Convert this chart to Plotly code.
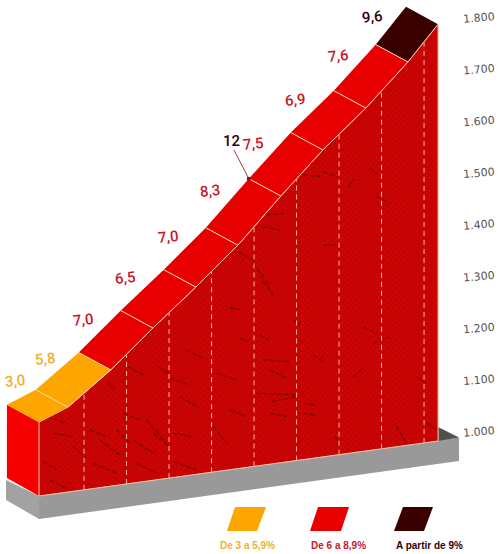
import numpy as np
import plotly.graph_objects as go

# ---- data ----
km_breaks = [0, 0.68, 1.69, 2.68, 3.69, 4.68, 5.69, 6.68, 7.69, 8.68, 9.39]
elev_breaks = [1021, 1050, 1122, 1203, 1282, 1363, 1458, 1547, 1628, 1717, 1790]
slopes = ["3,0", "5,8", "7,0", "6,5", "7,0", "8,3", "7,5", "6,9", "7,6", "9,6"]
km_marks = [1.06, 2.06, 3.06, 4.06, 5.06, 6.06, 7.06, 8.06, 9.06]
tick_vals = [1000, 1100, 1200, 1300, 1400, 1500, 1600, 1700, 1800]
tick_text = ["1.000", "1.100", "1.200", "1.300", "1.400", "1.500", "1.600", "1.700", "1.800"]
legend_labels = ["De 3 a 5,9%", "De 6 a 8,9%", "A partir de 9%"]

# rock cracks: (crop origin, strokes at 3x)
cracks_a = [[(200,155),(225,180)], [(265,110),(310,135)], [(390,145),(450,165)], [(355,110),(385,130)],
            [(150,300),(200,320)], [(180,330),(240,375)], [(230,300),(270,340)], [(320,270),(380,340)],
            [(340,310),(385,350)], [(280,330),(340,370)], [(400,310),(460,320)], [(40,310),(100,320)],
            [(10,395),(50,420)], [(30,450),(80,475)], [(160,400),(230,430)], [(290,400),(350,430)],
            [(400,395),(470,420)], [(520,290),(560,340)], [(440,60),(500,90)], [(420,200),(470,230)],
            [(100,350),(140,385)], [(250,250),(300,270)], [(530,130),(590,150)], [(20,260),(80,280)]]
cracks_b = [[(120,270),(170,295)], [(100,240),(180,245)], [(80,340),(200,345)], [(125,365),(200,350)],
            [(220,370),(260,375)], [(220,400),(255,405)], [(250,225),(280,245)], [(370,290),(400,265)],
            [(400,140),(440,160)], [(430,190),(480,170)], [(0,390),(50,410)], [(100,5),(130,45)],
            [(0,85),(30,88)], [(30,175),(55,185)], [(90,165),(115,180)], [(500,440),(530,490)],
            [(590,430),(620,450)], [(315,470),(330,490)], [(190,120),(210,135)], [(120,400),(170,410)],
            [(560,290),(590,310)]]
cracks_c = [[(340,135),(395,140)], [(400,125),(440,140)], [(475,170),(495,145)], [(400,345),(445,345)],
            [(145,365),(190,390)], [(190,400),(240,470)], [(220,290),(270,300)], [(560,200),(600,220)],
            [(540,115),(565,135)], [(230,255),(280,250)]]

YEL, RED, DARK = "#fda500", "#e80000", "#3a0000"
TXT = {"y": "#f0b030", "r": "#c9162c", "d": "#33000c"}
PALE = "#ffc8a8"

km = np.array(km_breaks, float)
el = np.array(elev_breaks, float)
DX, DY = -0.755, 33.5          # oblique depth of the ribbon


def X(px):
    return (px - 39) / 42.5


def Y(py):
    return 1000 + (433 - py) / 0.5175


base_left, base_right = Y(496), Y(441)
base = lambda k: base_left + (base_right - base_left) * (k - km[0]) / (km[-1] - km[0])

fig = go.Figure()


def poly(xs, ys, fill, line=None, width=0, **kw):
    fig.add_trace(go.Scatter(
        x=list(xs) + [xs[0]], y=list(ys) + [ys[0]], mode="lines", fill="toself",
        fillcolor=fill, line=dict(color=line or fill, width=width),
        hoverinfo="skip", showlegend=False, **kw))


def seg(xs, ys, color, width=1, dash=None):
    fig.add_trace(go.Scatter(x=xs, y=ys, mode="lines", line=dict(color=color, width=width, dash=dash),
                             hoverinfo="skip", showlegend=False))


# grey slab
sx0, sx1 = X(39), X(459)
poly([X(6), sx0, sx0, X(6)], [Y(480), Y(496), Y(519), Y(500)], "#a2a2a2")
poly([sx0, sx1, sx1, sx0], [Y(496), Y(437.5), Y(461), Y(519)], "#999999")
poly([km[-1], sx1, km[-1]], [Y(427), Y(437.5), Y(441)], "#505050")

# left face
poly([km[0] + DX, km[0], km[0], km[0] + DX], [el[0] + DY, el[0], base(km[0]), Y(478)], "#f50000")

# rock face
wx = list(km) + [km[-1], km[0]]
wy = list(el) + [base(km[-1]), base(km[0])]
poly(wx, wy, "#c40404", fillpattern=dict(shape="x", fgcolor="#860000", bgcolor="#cc0404", size=4, solidity=0.2))

cx, cy = [], []
for strokes, (ox, oy) in ((cracks_a, (40, 330)), (cracks_b, (230, 280)), (cracks_c, (190, 130))):
    for (a, b), (c, d) in strokes:
        cx += [X(ox + a / 3), X(ox + c / 3), None]
        cy += [Y(oy + b / 3), Y(oy + d / 3), None]
seg(cx, cy, "rgba(80,0,0,0.7)", 1.3, "3px,1px,1px,2px")

poly(wx, wy, "rgba(0,0,0,0)", line=PALE, width=1)

# km dashes
for k in km_marks:
    seg([k, k], [base(k), np.interp(k, km, el)], "#ffb4a0", 1, "5px,4px")

# ribbon
for i in range(len(slopes)):
    col = YEL if i < 2 else (DARK if i == len(slopes) - 1 else RED)
    poly([km[i], km[i + 1], km[i + 1] + DX, km[i] + DX],
         [el[i], el[i + 1], el[i + 1] + DY, el[i] + DY], col)
for i in range(1, len(slopes)):
    seg([km[i], km[i] + DX], [el[i], el[i] + DY], "#ffd8a0", 1)
seg(km[1:].tolist(), el[1:].tolist(), PALE, 1)

# 12 % marker
seg([km[6] + DX, X(234)], [el[6] + DY, Y(150)], "#7a1010", 0.8)
fig.add_trace(go.Scatter(x=[km[6] + DX], y=[el[6] + DY], mode="markers",
                         marker=dict(size=4, color="#7a1010"), hoverinfo="skip", showlegend=False))

ann = []
for i, s in enumerate(slopes):
    col = TXT["y"] if i < 2 else (TXT["d"] if i == len(slopes) - 1 else TXT["r"])
    ox, oy = {0: (-6, 16), 1: (-12, 12), 9: (-19, 9)}.get(i, (-17, 12))
    ann.append(dict(x=(km[i] + km[i + 1]) / 2 + DX, y=(el[i] + el[i + 1]) / 2 + DY, text=s,
                    xshift=ox, yshift=oy, showarrow=False, textangle=-6,
                    font=dict(family="Roboto", size=15, weight=500, color=col)))
ann.append(dict(x=X(231), y=Y(141), text="12", showarrow=False,
                font=dict(family="Roboto", size=15, weight=500, color=TXT["d"])))

# legend
swatches = [(227, 235, 266, 257, YEL), (310, 318, 349, 341, RED), (394, 403, 433, 424, DARK)]
for (a, b, c, d, col), lab, tx, tc in zip(swatches, legend_labels, (247, 338, 429), (TXT["y"], TXT["r"], TXT["d"])):
    poly([X(a), X(b), X(c), X(d)], [Y(531), Y(507), Y(507), Y(531)], col)
    ann.append(dict(x=X(tx), y=Y(545), text="<b>%s</b>" % lab, showarrow=False,
                    font=dict(family="Liberation Sans", size=10, color=tc)))

fig.update_layout(
    width=500, height=554, margin=dict(l=0, r=38, t=0, b=0), autosize=False,
    paper_bgcolor="white", plot_bgcolor="white", showlegend=False, hovermode=False,
    annotations=ann,
    xaxis=dict(range=[X(0), X(462)], visible=False, fixedrange=True),
    yaxis=dict(range=[Y(554), Y(0)], side="right", tickmode="array", tickvals=tick_vals, ticktext=tick_text,
               tickangle=-5, ticklen=0, showgrid=False, zeroline=False, showline=False, fixedrange=True,
               tickfont=dict(family="DejaVu Sans", size=11, color="#555555")),
)
fig.write_html("out.html", config={"displayModeBar": False},
               post_script="document.body.style.margin='0';document.documentElement.style.overflow='hidden';")
